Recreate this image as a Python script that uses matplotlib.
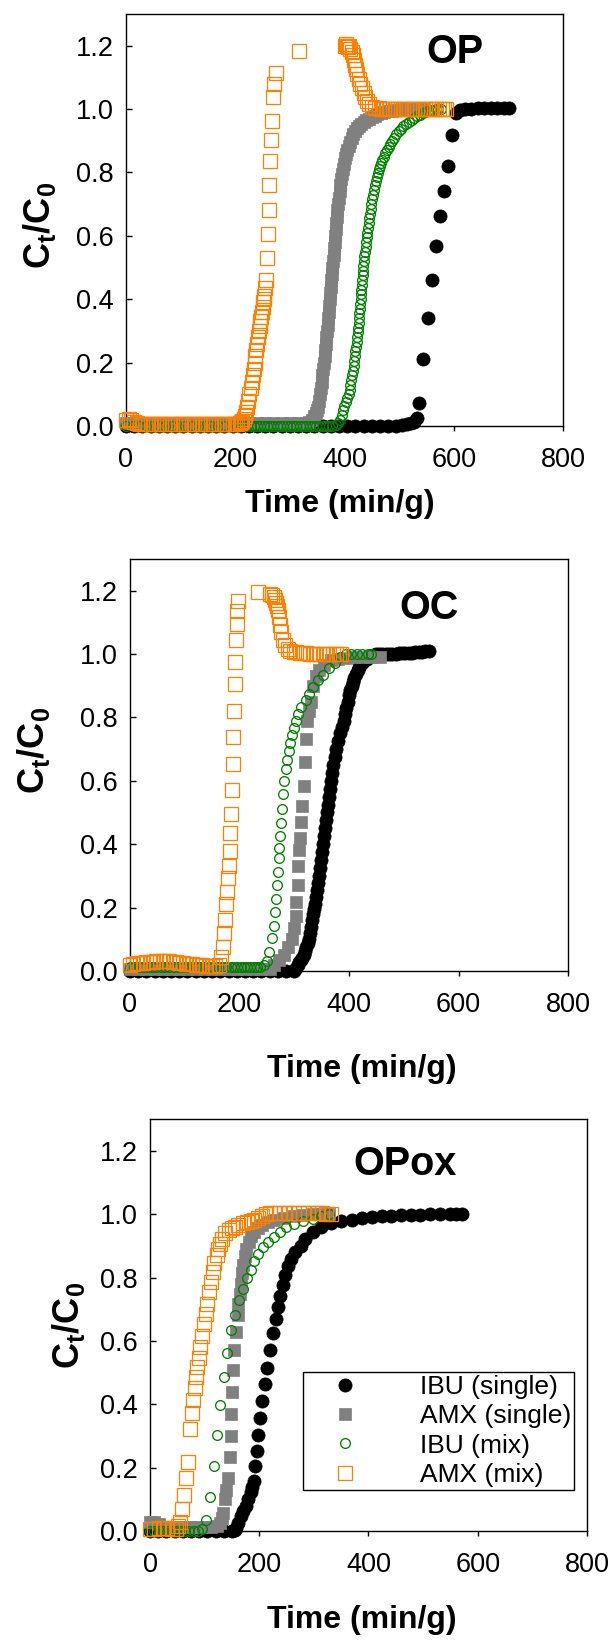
import matplotlib
matplotlib.use('Agg')
import matplotlib.pyplot as plt

plt.rcParams['font.family'] = ['Liberation Sans', 'DejaVu Sans']
plt.rcParams['mathtext.fontset'] = 'custom'
plt.rcParams['mathtext.bf'] = 'Liberation Sans:bold'
plt.rcParams['mathtext.rm'] = 'Liberation Sans'

# ---- OP ----
op_ibu_s_t = [0, 15, 30, 45, 60, 75, 90, 105, 120, 135, 150, 165, 180, 195, 210, 225, 240, 255, 270, 285,
              300, 315, 330, 345, 360, 375, 390, 405, 420, 435, 450, 465, 480, 495,
              505, 515, 522, 527, 532, 537, 544, 553, 560, 567, 575, 582, 589, 597, 605, 612,
              620, 632, 644, 656, 668, 680, 692, 701]
op_ibu_s_c = [0.0, 0.0, 0.0, 0.0, 0.0, 0.0, 0.0, 0.0, 0.0, 0.0, 0.0, 0.0, 0.0, 0.0, 0.0, 0.0, 0.0, 0.0, 0.0, 0.0,
              0.0, 0.0, 0.0, 0.0, 0.0, 0.0, 0.0, 0.0, 0.0, 0.0, 0.0, 0.0, 0.0, 0.001,
              0.003, 0.006, 0.01, 0.014, 0.024, 0.072, 0.21, 0.34, 0.46, 0.567, 0.664, 0.741, 0.819, 0.918, 0.986, 0.997,
              1.0, 1.001, 1.002, 1.002, 1.002, 1.002, 1.002, 1.002]

op_amx_s_t = [0, 15, 30, 45, 60, 75, 90, 105, 120, 135, 150, 165, 180, 195, 210, 225, 240, 255, 270, 285,
              300, 315, 330,
              335, 340, 344, 347, 350, 352, 353.5, 355, 356.5, 358, 359.5, 361, 362.5, 364, 365, 366, 367, 368,
              369, 370, 371, 372, 373, 374, 375, 376, 377, 378, 379, 380, 381, 382, 383, 384, 385, 386, 387,
              388, 389.5, 391, 392.5, 394, 395.5, 397, 399, 401, 403, 405, 407.5, 410, 413, 416, 419.5, 423,
              426.5, 430, 435, 440, 445, 450, 455, 460, 466, 472, 480, 487, 494, 500, 508, 515, 522, 530, 538,
              545]
op_amx_s_c = [0.01, 0.01, 0.01, 0.01, 0.01, 0.01, 0.01, 0.01, 0.01, 0.01, 0.01, 0.01, 0.01, 0.01, 0.01, 0.01,
              0.01, 0.01, 0.01, 0.01, 0.01, 0.01, 0.01,
              0.012, 0.02, 0.03, 0.04, 0.05, 0.06, 0.08, 0.1, 0.12, 0.14, 0.16, 0.18, 0.2, 0.22, 0.24, 0.26,
              0.28, 0.3, 0.32, 0.34, 0.36, 0.38, 0.4, 0.42, 0.44, 0.46, 0.48, 0.5, 0.52, 0.54, 0.56, 0.58, 0.6,
              0.62, 0.64, 0.66, 0.68, 0.7, 0.72, 0.74, 0.76, 0.78, 0.795, 0.81, 0.828, 0.845, 0.858, 0.87,
              0.883, 0.895, 0.908, 0.92, 0.93, 0.94, 0.946, 0.952, 0.959, 0.965, 0.97, 0.975, 0.979, 0.983,
              0.987, 0.99, 0.993, 0.995, 0.997, 0.998, 0.999, 1.0, 1.0, 1.0, 1.0, 1.0]

op_ibu_m_t = [0, 12, 24, 36, 48, 60, 72, 84, 96, 108, 120, 132, 144, 156, 168, 180, 192,
              204, 210, 216, 222, 228, 234, 240, 246, 252, 258, 264, 270, 276, 282, 288, 294, 300, 306, 312,
              318, 324, 330, 336, 342, 348, 354, 360, 366, 372, 378,
              384, 388, 392, 395, 397, 400, 402, 405, 408, 409.5, 411, 412.5, 414, 415.5, 417, 418, 419, 420,
              421, 422, 423, 424, 425, 425.8, 426.5, 427.3, 428, 428.8, 429.5, 430.3, 431, 431.8, 432.5, 433.3,
              434, 434.8, 435.5, 436.5, 437.5, 438.5, 439.5, 440.5, 441.5, 442.8, 444, 445.3, 446.5, 447.8,
              449, 450.5, 452, 453.8, 455.5, 457.3, 459, 461, 463, 465, 467, 469.5, 472, 475, 478, 481, 484,
              487.5, 491, 495, 499, 503.5, 508, 513, 518, 523, 528, 533, 538, 543, 548, 553, 558, 563, 568,
              572, 576]
op_ibu_m_c = [0.0, 0.0, 0.0, 0.0, 0.0, 0.0, 0.0, 0.0, 0.0, 0.0, 0.0, 0.0, 0.0, 0.0, 0.0, 0.0, 0.0,
              0.0, 0.0, 0.0, 0.0, 0.0, 0.0, 0.0, 0.0, 0.0, 0.0, 0.0, 0.0, 0.0, 0.0, 0.0, 0.0, 0.0, 0.0, 0.0,
              0.0, 0.0, 0.0, 0.0, 0.0, 0.0, 0.0, 0.0, 0.0, 0.0, 0.0,
              0.003, 0.01, 0.02, 0.035, 0.05, 0.062, 0.075, 0.087, 0.1, 0.115, 0.13, 0.145, 0.16, 0.175, 0.19,
              0.205, 0.22, 0.235, 0.25, 0.265, 0.28, 0.295, 0.31, 0.325, 0.34, 0.355, 0.37, 0.385, 0.4, 0.415,
              0.43, 0.445, 0.46, 0.475, 0.49, 0.505, 0.52, 0.535, 0.55, 0.565, 0.58, 0.595, 0.61, 0.625, 0.64,
              0.655, 0.67, 0.685, 0.7, 0.715, 0.73, 0.745, 0.76, 0.773, 0.785, 0.798, 0.81, 0.82, 0.83, 0.84,
              0.85, 0.86, 0.87, 0.88, 0.89, 0.9, 0.91, 0.92, 0.93, 0.938, 0.945, 0.953, 0.96, 0.966, 0.972,
              0.977, 0.982, 0.986, 0.99, 0.993, 0.996, 0.998, 0.999, 1.0, 1.0]

op_amx_m_t = [0, 5, 10, 15, 20, 25, 30, 35, 40, 45, 50, 55, 60, 65, 70, 75, 80, 85, 90, 95, 100,
              105, 110, 115, 120, 125, 130, 135, 140, 145, 150, 155, 160, 165, 170, 175, 180, 185, 190, 195, 200,
              204, 208, 210.5, 213, 215.5, 218, 220, 222, 224, 226, 228, 230, 232, 234, 235.5, 237, 238.5, 240,
              241.5, 243, 244.5, 246, 247.5, 249, 250, 251, 252, 253, 254.5, 256, 257.6, 259.8, 261,
              262.6, 264, 265.5, 267, 269, 270.5, 275.5, 316, 401, 403, 405, 407, 409, 411, 413, 415, 417,
              419, 421, 423, 426, 429, 432, 435, 438, 441, 445, 450, 456, 463,
              468, 473, 478, 483, 488, 493, 498, 503, 508, 513, 518, 523, 528, 533, 538, 543, 548, 553, 558,
              563, 568, 573, 578, 583, 586]
op_amx_m_c = [0.02, 0.022, 0.018, 0.012, 0.008, 0.005, 0.005, 0.005, 0.005, 0.005, 0.005, 0.005, 0.005, 0.005,
              0.005, 0.005, 0.005, 0.005, 0.005, 0.005, 0.005, 0.005, 0.005, 0.005, 0.005, 0.005, 0.005, 0.005,
              0.005, 0.005, 0.005, 0.005, 0.005, 0.005, 0.005, 0.005, 0.005, 0.005, 0.005, 0.005, 0.005,
              0.006, 0.008, 0.011, 0.015, 0.022, 0.03, 0.045, 0.06, 0.08, 0.1, 0.12, 0.14, 0.16, 0.18, 0.2,
              0.22, 0.24, 0.26, 0.28, 0.3, 0.315, 0.33, 0.345, 0.36, 0.375, 0.39, 0.4, 0.41, 0.435, 0.459, 0.529,
              0.605, 0.681, 0.759, 0.835, 0.902, 0.963, 1.038, 1.078, 1.114, 1.183, 1.2, 1.205, 1.2, 1.195, 1.2,
              1.19, 1.18, 1.17, 1.155, 1.14, 1.125, 1.11, 1.095, 1.08, 1.065, 1.05, 1.037, 1.025, 1.015, 1.008,
              1.004, 1.002,
              1.0, 1.0, 1.0, 1.0, 1.0, 1.0, 1.0, 1.0, 1.0, 1.0, 1.0, 1.0, 1.0, 1.0, 1.0, 1.0, 1.0, 1.0, 1.0,
              1.0, 1.0, 1.0, 1.0, 1.0, 1.0]

# ---- OC ----
oc_ibu_s_t = [0, 15, 30, 45, 60, 75, 90, 105, 120, 135, 150, 165, 180, 195, 210, 225, 240, 255, 270, 285, 300,
              303, 306, 309, 312, 314.5, 317, 319.5, 322, 324.5, 327, 329, 331, 333, 335, 336.8, 338.5, 340.3,
              342, 343.8, 345.5, 347.3, 349, 351, 352.8, 354.6, 356.5, 358.3, 360, 361.8, 363.5, 365.3, 367,
              369.3, 371.5, 373.8, 376, 379.5, 383, 386.5, 390, 392.5, 395, 397.5, 400, 402.5, 405, 407.5, 410,
              413, 416, 419, 422, 425, 428, 432, 436, 440, 445, 450, 455, 461, 467, 473, 479, 485, 491, 497,
              503, 509, 515, 521, 527, 533, 539, 546]
oc_ibu_s_c = [0.0, 0.0, 0.0, 0.0, 0.0, 0.0, 0.0, 0.0, 0.0, 0.0, 0.0, 0.0, 0.0, 0.0, 0.0, 0.0, 0.0, 0.0, 0.0, 0.0,
              0.0,
              0.01, 0.02, 0.027, 0.035, 0.042, 0.05, 0.062, 0.075, 0.087, 0.1, 0.12, 0.14, 0.16, 0.18, 0.195,
              0.21, 0.232, 0.255, 0.278, 0.3, 0.325, 0.35, 0.375, 0.4, 0.425, 0.45, 0.475, 0.5, 0.525, 0.55,
              0.575, 0.6, 0.625, 0.65, 0.675, 0.7, 0.725, 0.75, 0.77, 0.79, 0.81, 0.83, 0.85, 0.87, 0.885, 0.9,
              0.913, 0.925, 0.938, 0.95, 0.959, 0.967, 0.974, 0.98, 0.985, 0.99, 0.994, 0.997, 0.999, 1.0, 1.0,
              1.0, 1.0, 1.001, 1.001, 1.002, 1.002, 1.003, 1.003, 1.004, 1.005, 1.006, 1.007, 1.008, 1.01]

oc_amx_s_t = [0, 15, 30, 45, 60, 75, 90, 105, 120, 135, 150, 165, 180, 195, 210, 225, 240, 255,
              263, 272, 281, 288, 295.5, 299, 302.7, 304, 306, 307.7, 309, 310.6, 312, 314, 317, 319, 322,
              324, 327, 331, 335, 340, 345.6, 355, 367, 380, 395, 410, 425, 440, 456]
oc_amx_s_c = [0.005, 0.005, 0.005, 0.005, 0.005, 0.005, 0.005, 0.005, 0.005, 0.005, 0.005, 0.005, 0.005, 0.005,
              0.005, 0.005, 0.005, 0.005,
              0.02, 0.035, 0.05, 0.075, 0.1, 0.135, 0.173, 0.216, 0.272, 0.33, 0.381, 0.421, 0.47, 0.522,
              0.584, 0.659, 0.733, 0.789, 0.82, 0.85, 0.9, 0.93, 0.95, 0.965, 0.98, 0.985, 0.988, 0.99, 0.99,
              0.99, 0.99]

oc_ibu_m_t = [0, 8, 16, 24, 32, 40, 48, 56, 64, 72, 80, 88, 96, 104, 112, 120, 128, 136, 144, 152, 160, 168,
              176, 184, 190, 196, 202, 208, 214, 220, 226, 232, 238, 244, 250,
              254.7, 259.8, 263, 265.5, 267, 268, 270.5, 272, 273, 274.8, 276, 277, 279, 282, 285, 287, 290,
              292, 295.5, 299, 302.7, 307.7, 313, 320.6, 327.7, 335, 343.5, 352.8, 363.5, 374, 384, 394, 404,
              414, 424, 434, 440]
oc_ibu_m_c = [0.012, 0.012, 0.012, 0.012, 0.012, 0.012, 0.012, 0.012, 0.012, 0.012, 0.012, 0.012, 0.012, 0.012,
              0.012, 0.012, 0.012, 0.012, 0.012, 0.012, 0.012, 0.012, 0.012, 0.012, 0.012, 0.012, 0.012, 0.012,
              0.012, 0.012, 0.012, 0.013, 0.014, 0.018, 0.03,
              0.06, 0.103, 0.143, 0.186, 0.227, 0.272, 0.313, 0.357, 0.389, 0.427, 0.467, 0.51, 0.557, 0.6,
              0.638, 0.667, 0.694, 0.719, 0.746, 0.767, 0.789, 0.81, 0.832, 0.854, 0.875, 0.897, 0.918, 0.935,
              0.956, 0.973, 0.99, 1.0, 1.0, 1.0, 1.0, 1.0, 1.0]

oc_amx_m_t = [0, 6, 12, 18, 24, 30, 36, 42, 48, 54, 60, 66, 72, 78, 84, 90, 96, 102, 108, 114, 120, 126, 132,
              138, 144, 150, 156, 163,
              166.7, 170, 171.7, 174, 176, 177.5, 179.6, 181, 182.5, 183, 184.6, 186, 187.5, 188, 189.6, 191,
              191.8, 193, 194.6, 196, 197.5, 234.7, 256, 260, 263, 265, 266.9, 268.5, 270.5, 272.6, 274.8, 276,
              279, 283, 288, 293, 299, 304, 310, 316, 322, 328, 334, 340, 346, 352, 358, 364, 370, 376, 382, 385]
oc_amx_m_c = [0.02, 0.022, 0.025, 0.025, 0.025, 0.027, 0.028, 0.029, 0.03, 0.031, 0.032, 0.031, 0.03, 0.028,
              0.027, 0.026, 0.025, 0.023, 0.022, 0.021, 0.02, 0.019, 0.018, 0.017, 0.016, 0.015, 0.015, 0.02,
              0.043, 0.076, 0.119, 0.162, 0.21, 0.25, 0.292, 0.332, 0.378, 0.434, 0.494, 0.571, 0.654, 0.737,
              0.821, 0.906, 0.976, 1.043, 1.095, 1.135, 1.167, 1.196, 1.191, 1.185, 1.18, 1.17, 1.162, 1.15,
              1.14, 1.118, 1.091, 1.068, 1.043, 1.027, 1.016, 1.01, 1.007, 1.005, 1.004, 1.003, 1.002, 1.001,
              1.0, 1.0, 1.0, 1.0, 1.0, 1.0, 1.0, 1.0, 1.0, 1.0]

# ---- OPox ----
ox_ibu_s_t = [0, 15, 30, 45, 60, 75, 90, 105, 120, 135, 150,
              155, 158, 162, 166, 171, 175.5, 180, 184, 187, 190, 192.7, 196, 198, 201.9, 205.5, 210.6, 214.9,
              219.9, 224.9, 230.6, 234, 237.8, 242.8, 247, 252, 257.8, 266, 275.7, 284, 298.7, 313, 331, 348.8,
              370, 388, 406, 424, 442, 460, 477.7, 495, 513.5, 531, 549, 560, 570.8]
ox_ibu_s_c = [0.0, 0.0, 0.0, 0.0, 0.0, 0.0, 0.0, 0.0, 0.0, 0.0, 0.0,
              0.003, 0.01, 0.025, 0.047, 0.063, 0.08, 0.1, 0.124, 0.14, 0.159, 0.206, 0.253, 0.304, 0.357, 0.41,
              0.463, 0.515, 0.572, 0.625, 0.669, 0.707, 0.742, 0.777, 0.808, 0.835, 0.857, 0.879, 0.901, 0.923,
              0.944, 0.961, 0.972, 0.977, 0.983, 0.987, 0.99, 0.993, 0.995, 0.996, 0.996, 0.997, 0.999, 1.0,
              1.001, 1.001, 1.001]

ox_amx_s_t = [0, 8, 16, 28, 40, 52, 64, 76, 88, 100, 112, 122, 128, 131, 134, 137.5, 140, 143, 146, 147.5,
              149, 150.4, 152.5, 154, 157, 160.4, 162, 164, 166, 168.3, 170.5, 173.3, 176.5, 180.5, 185.5, 191,
              198, 205.5, 216, 227, 245, 262.8, 280, 298.7, 313, 327]
ox_amx_s_c = [0.03, 0.03, 0.022, 0.012, 0.012, 0.012, 0.012, 0.012, 0.012, 0.012, 0.012, 0.015, 0.025, 0.04,
              0.058, 0.1, 0.13, 0.167, 0.233, 0.3, 0.37, 0.438, 0.507, 0.572, 0.627, 0.682, 0.715, 0.747, 0.78,
              0.813, 0.84, 0.868, 0.89, 0.912, 0.93, 0.944, 0.956, 0.966, 0.975, 0.983, 0.989, 0.994, 0.997,
              0.999, 1.0, 1.001]

ox_ibu_m_t = [0, 8, 16, 24, 32, 40, 48, 56, 64, 72, 80, 88, 95, 101.7, 110, 116.7, 123, 128.9, 135.4, 141.8,
              149, 156, 162.6, 169.7, 176.9, 184, 191, 198.4, 207, 216, 227, 237.8, 248.5, 262.8, 280.8, 298.7,
              313, 327]
ox_ibu_m_c = [0.0, 0.0, 0.0, 0.0, 0.0, 0.0, 0.0, 0.0, 0.0, 0.0, 0.0, 0.0, 0.005, 0.034, 0.109, 0.206, 0.302,
              0.397, 0.485, 0.561, 0.633, 0.682, 0.728, 0.764, 0.797, 0.824, 0.851, 0.873, 0.895, 0.912, 0.928,
              0.944, 0.958, 0.968, 0.977, 0.986, 0.994, 0.999]

ox_amx_m_t = [0, 8, 16, 24, 32, 40, 48, 52, 55, 58.7, 62.3, 65.9, 69.5, 73, 76.6, 78.8, 81.6, 83.8, 86, 89.5,
              92.4, 94.5, 98, 101.7, 105, 108.9, 112.4, 116, 118, 121.8, 125.3, 128.2, 131.8, 137.5, 144.7, 150,
              155.4, 162, 169.7, 177, 184, 191, 198.4, 205, 212.7, 220, 227, 236, 245, 254, 262.8, 272, 281,
              290, 298.7, 307, 315, 323, 330.9]
ox_amx_m_c = [0.005, 0.008, 0.01, 0.01, 0.01, 0.008, 0.008, 0.015, 0.03, 0.069, 0.113, 0.167, 0.217, 0.323,
              0.372, 0.414, 0.452, 0.485, 0.518, 0.545, 0.581, 0.616, 0.654, 0.684, 0.715, 0.753, 0.786, 0.819,
              0.846, 0.87, 0.89, 0.906, 0.923, 0.939, 0.95, 0.956, 0.961, 0.966, 0.972, 0.975, 0.977, 0.982,
              0.988, 0.993, 0.999, 1.003, 1.005, 1.005, 1.005, 1.005, 1.005, 1.005, 1.005, 1.005, 1.005, 1.004,
              1.003, 1.002, 1.001]

labels = ['IBU (single)', 'AMX (single)', 'IBU (mix)', 'AMX (mix)']
y_ticks = [0.0, 0.2, 0.4, 0.6, 0.8, 1.0, 1.2]
x_ticks = [0, 200, 400, 600, 800]

styles = [
    dict(marker='o', ms=9.5, mfc='black', mec='black', mew=0.5),
    dict(marker='s', ms=9, mfc='#808080', mec='#808080', mew=0.5),
    dict(marker='o', ms=7, mfc='none', mec='#008000', mew=0.95),
    dict(marker='s', ms=10, mfc='none', mec='#ff8000', mew=0.9),
]

fig = plt.figure(figsize=(6.14, 16.44), dpi=100)


def draw_panel(rect, series, title, title_xy, xlab_xy, ylab_xy):
    ax = fig.add_axes(rect)
    for (t, c), lab, st in zip(series, labels, styles):
        ax.plot(t, c, ls='none', label=lab, clip_on=False, zorder=3, **st)
    ax.set_xlim(0, 800)
    ax.set_ylim(0, 1.3)
    ax.set_xticks(x_ticks)
    ax.set_yticks(y_ticks)
    ax.set_yticklabels(['%.1f' % v for v in y_ticks])
    ax.tick_params(axis='y', direction='in', length=4.3, width=1, pad=9, labelsize=19.5)
    ax.tick_params(axis='x', direction='out', length=3.8, width=1, pad=11, labelsize=19.5)
    for s in ax.spines.values():
        s.set_linewidth(1.0)
    ax.text(title_xy[0], title_xy[1], title, fontsize=28.5, fontweight='bold', ha='center', va='center')
    ax.text(xlab_xy[0], xlab_xy[1], 'Time (min/g)', transform=ax.transAxes, fontsize=23,
            fontweight='bold', ha='center', va='center')
    ax.text(ylab_xy[0], ylab_xy[1], r'$\mathbf{C_t/C_0}$', transform=ax.transAxes, fontsize=26,
            rotation=90, ha='center', va='center')
    return ax


ax1 = draw_panel([0.2052, 0.7409, 0.7117, 0.2506],
                 [(op_ibu_s_t, op_ibu_s_c), (op_amx_s_t, op_amx_s_c),
                  (op_ibu_m_t, op_ibu_m_c), (op_amx_m_t, op_amx_m_c)],
                 'OP', (602, 1.18), (0.49, -0.189), (-0.199, 0.488))
ax2 = draw_panel([0.2117, 0.4094, 0.7134, 0.2506],
                 [(oc_ibu_s_t, oc_ibu_s_c), (oc_amx_s_t, oc_amx_s_c),
                  (oc_ibu_m_t, oc_ibu_m_c), (oc_amx_m_t, oc_amx_m_c)],
                 'OC', (546, 1.145), (0.53, -0.238), (-0.221, 0.536))
ax3 = draw_panel([0.2443, 0.0687, 0.7117, 0.2506],
                 [(ox_ibu_s_t, ox_ibu_s_c), (ox_amx_s_t, ox_amx_s_c),
                  (ox_ibu_m_t, ox_ibu_m_c), (ox_amx_m_t, ox_amx_m_c)],
                 'OPox', (467, 1.158), (0.485, -0.216), (-0.186, 0.5))

leg = ax3.legend(loc='upper right', bbox_to_anchor=(0.97, 0.385), fontsize=19, frameon=True,
                 fancybox=False, framealpha=1, edgecolor='black', borderpad=0.1, labelspacing=0.2,
                 handlelength=3.0, handletextpad=1.35, borderaxespad=0)
leg.get_frame().set_linewidth(1.0)

fig.savefig('out.png', dpi=100)
